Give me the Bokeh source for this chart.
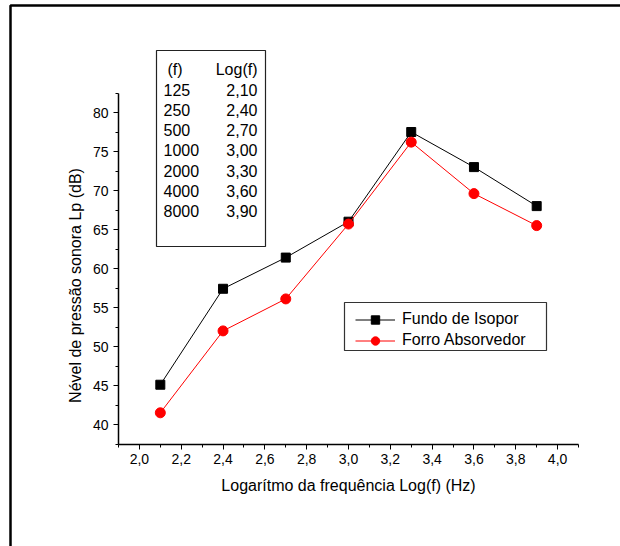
import math
from bokeh.plotting import figure
from bokeh.models import (Range1d, SingleIntervalTicker, CustomJSTickFormatter,
                          Legend, LegendItem, Label, BoxAnnotation)
from bokeh.embed import file_html
from bokeh.resources import INLINE

# ---- data ----
log_f = [2.1, 2.4, 2.7, 3.0, 3.3, 3.6, 3.9]
fundo_isopor = [45.1, 57.4, 61.4, 66.0, 77.5, 73.0, 68.0]
forro_absorvedor = [41.5, 52.0, 56.1, 65.7, 76.2, 69.6, 65.5]
table_freq = ["125", "250", "500", "1000", "2000", "4000", "8000"]
table_logf = ["2,10", "2,40", "2,70", "3,00", "3,30", "3,60", "3,90"]
series_names = ["Fundo de Isopor", "Forro Absorvedor"]

FONT = "Liberation Sans"
W, H = 620, 546

# axis extents (data) and their pixel placement on the page
X0, X1 = 1.9, 4.1
Y0, Y1 = 37.5, 82.5
AX_L, AX_R = 118.0, 578.0      # px of X0, X1
AX_T, AX_B = 92.5, 443.5       # px of Y1, Y0
sx = (AX_R - AX_L) / (X1 - X0)
sy = (AX_B - AX_T) / (Y1 - Y0)
x_range = Range1d(X0 - AX_L / sx, X0 + (W - AX_L) / sx)
y_range = Range1d(Y0 - (H - AX_B) / sy, Y0 + AX_B / sy)

p = figure(width=W, height=H, output_backend="svg", toolbar_location=None,
           x_range=x_range, y_range=y_range,
           min_border_left=0, min_border_right=0,
           min_border_top=0, min_border_bottom=0)
p.grid.visible = False
p.outline_line_color = None
p.background_fill_color = "white"
p.border_fill_color = "white"

# axes
p.xaxis.ticker = SingleIntervalTicker(interval=0.2, num_minor_ticks=2)
p.yaxis.ticker = SingleIntervalTicker(interval=5, num_minor_ticks=2)
p.xaxis.formatter = CustomJSTickFormatter(code="return tick.toFixed(1).replace('.', ',');")
p.yaxis.formatter = CustomJSTickFormatter(code="return Math.round(tick).toString();")
p.xaxis.bounds = (X0, X1)
p.yaxis.bounds = (Y0, Y1)
p.xaxis.fixed_location = Y0
p.yaxis.fixed_location = X0
for ax in (p.xaxis, p.yaxis):
    ax.axis_line_color = "black"
    ax.axis_line_width = 1.5
    ax.major_tick_line_color = "black"
    ax.minor_tick_line_color = "black"
    ax.major_tick_in = 0
    ax.major_tick_out = 5
    ax.minor_tick_in = 0
    ax.minor_tick_out = 3
    ax.major_label_text_font = FONT
    ax.major_label_text_font_size = "14px"
    ax.major_label_text_color = "black"
    ax.major_label_standoff = 5
p.xaxis.axis_label = "Logarítmo da frequência Log(f) (Hz)"
p.xaxis.axis_label_text_font = FONT
p.xaxis.axis_label_text_font_size = "16px"
p.xaxis.axis_label_text_font_style = "normal"
p.xaxis.axis_label_text_color = "black"
p.xaxis.axis_label_standoff = 9

# y title (manual, offset like the original)
p.add_layout(Label(x=75, y=285, x_units="canvas", y_units="canvas",
                   text="Nével de pressão sonora Lp (dB)", angle=math.pi / 2,
                   text_align="center", text_baseline="middle",
                   text_font=FONT, text_font_size="16px", text_color="black"))

# data
r1l = p.line(log_f, fundo_isopor, line_color="black", line_width=1)
r1m = p.scatter(log_f, fundo_isopor, marker="square", size=9, color="black")
r2l = p.line(log_f, forro_absorvedor, line_color="red", line_width=1)
r2m = p.scatter(log_f, forro_absorvedor, marker="circle", size=10, color="red")

# page frame (top and left edges visible)
p.add_layout(BoxAnnotation(left=10, right=900, top=5, bottom=900,
                           left_units="canvas", right_units="canvas",
                           top_units="canvas", bottom_units="canvas",
                           fill_color=None, line_color="black",
                           line_alpha=1.0, line_width=2.5))

# table box
p.add_layout(BoxAnnotation(left=156, right=265, top=50, bottom=246,
                           left_units="canvas", right_units="canvas",
                           top_units="canvas", bottom_units="canvas",
                           fill_color=None, line_color="#222222",
                           line_alpha=1.0, line_width=1.2))
p.add_layout(Label(x=167, y=69, x_units="canvas", y_units="canvas", text="(f)",
                   text_align="left", text_baseline="middle",
                   text_font=FONT, text_font_size="16px", text_color="black"))
p.add_layout(Label(x=257, y=69, x_units="canvas", y_units="canvas", text="Log(f)",
                   text_align="right", text_baseline="middle",
                   text_font=FONT, text_font_size="16px", text_color="black"))
for i, (fq, lg) in enumerate(zip(table_freq, table_logf)):
    yy = 89 + 20.25 * i
    p.add_layout(Label(x=163, y=yy, x_units="canvas", y_units="canvas", text=fq,
                       text_align="left", text_baseline="middle",
                       text_font=FONT, text_font_size="16px", text_color="black"))
    p.add_layout(Label(x=257, y=yy, x_units="canvas", y_units="canvas", text=lg,
                       text_align="right", text_baseline="middle",
                       text_font=FONT, text_font_size="16px", text_color="black"))

# legend box + legend
p.add_layout(BoxAnnotation(left=344, right=546, top=302, bottom=350,
                           left_units="canvas", right_units="canvas",
                           top_units="canvas", bottom_units="canvas",
                           fill_color="white", fill_alpha=1.0, line_color="#333333",
                           line_alpha=1.0, line_width=1.2))
legend = Legend(items=[LegendItem(label=series_names[0], renderers=[r1l, r1m]),
                       LegendItem(label=series_names[1], renderers=[r2l, r2m])],
                location=(355, H - 350.5), padding=4, spacing=0,
                glyph_width=40, glyph_height=21, label_height=21,
                label_standoff=7, border_line_color=None,
                background_fill_alpha=0,
                label_text_font=FONT, label_text_font_size="16px",
                label_text_color="black")
p.add_layout(legend, "center")

open("out.html", "w").write(file_html(p, INLINE))
